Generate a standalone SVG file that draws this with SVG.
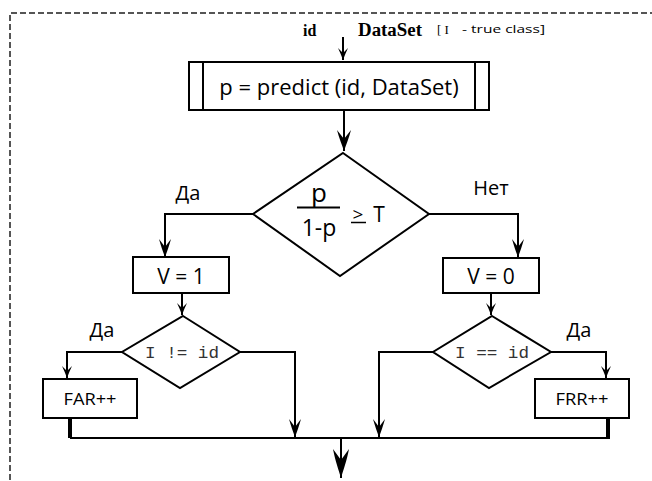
<svg xmlns="http://www.w3.org/2000/svg" width="652" height="481" viewBox="0 0 652 481">
<style>
.frame{fill:none;stroke:#555;stroke-width:2;stroke-dasharray:6 3}
.box{fill:#fff;stroke:#000;stroke-width:2}
.ln{fill:none;stroke:#000;stroke-width:2}
.thick{fill:none;stroke:#000;stroke-width:4}
.t{font-family:"Open Sans","Noto Sans",sans-serif;fill:#000}
.m{font-family:"Liberation Mono","DejaVu Sans Mono",monospace;fill:#333}
.s{font-family:"Liberation Serif",serif;font-weight:bold;fill:#000}
</style>
<defs>
<marker id="aL" markerUnits="userSpaceOnUse" viewBox="-22 -8 23 16" markerWidth="23" markerHeight="16" refX="0" refY="0" orient="auto">
<path d="M0,0 C-6,-2 -13,-5 -21,-7 L-12,0 L-21,7 C-13,5 -6,2 0,0 Z" fill="#000"/>
</marker>
<marker id="aM" markerUnits="userSpaceOnUse" viewBox="-19 -7 20 14" markerWidth="20" markerHeight="14" refX="0" refY="0" orient="auto">
<path d="M0,0 C-5,-2 -11,-4 -18,-6 L-10,0 L-18,6 C-11,4 -5,2 0,0 Z" fill="#000"/>
</marker>
<marker id="aS" markerUnits="userSpaceOnUse" viewBox="-13 -6 14 12" markerWidth="14" markerHeight="12" refX="0" refY="0" orient="auto">
<path d="M0,0 C-4,-1.5 -8,-3 -12,-5 L-7,0 L-12,5 C-8,3 -4,1.5 0,0 Z" fill="#000"/>
</marker>
<marker id="aB" markerUnits="userSpaceOnUse" viewBox="-30 -9 31 18" markerWidth="31" markerHeight="18" refX="0" refY="0" orient="auto">
<path d="M0,0 C-7,-2 -18,-6 -29,-8 L-18,0 L-29,8 C-18,6 -7,2 0,0 Z" fill="#000"/>
</marker>
</defs>

<path class="frame" d="M10,480 V13 H652"/>

<g id="inputs">
<text class="s" x="303" y="36" font-size="16">id</text>
<text class="s" x="358" y="36" font-size="18" textLength="64" lengthAdjust="spacingAndGlyphs">DataSet</text>
<text x="437" y="34" font-size="13" font-family="Liberation Serif,serif" fill="#000">[ I</text>
<text class="t" x="462" y="33" font-size="10.5" textLength="83" lengthAdjust="spacingAndGlyphs">- true class]</text>
</g>

<g id="connectors">
<path class="ln" d="M343,37 V60" marker-end="url(#aS)"/>
<path class="ln" d="M344,110 V151" marker-end="url(#aL)"/>
<path class="ln" d="M253,214 H165 V257" marker-end="url(#aM)"/>
<path class="ln" d="M429,214 H518 V257" marker-end="url(#aM)"/>
<path class="ln" d="M182,293 V315" marker-end="url(#aS)"/>
<path class="ln" d="M491,293 V315" marker-end="url(#aS)"/>
<path class="ln" d="M122,352 H67 V378" marker-end="url(#aS)"/>
<path class="ln" d="M240,352 H295 V437" marker-end="url(#aM)"/>
<path class="ln" d="M433,352 H379 V437" marker-end="url(#aM)"/>
<path class="ln" d="M551,352 H606 V378" marker-end="url(#aS)"/>
<path class="thick" d="M70,418 V438"/>
<path class="thick" d="M608,418 V438"/>
<path class="ln" d="M70,438 H610"/>
<path class="ln" d="M341,438 V478" marker-end="url(#aB)"/>
</g>

<g id="predict">
<rect class="box" x="189" y="62" width="300" height="48"/>
<path class="ln" d="M203,62 V110 M475,62 V110"/>
<text class="t" x="339" y="95" font-size="22" text-anchor="middle">p = predict (id, DataSet)</text>
</g>

<g id="decision-main">
<polygon class="box" points="343,153 429,214 340,276 253,214"/>
<text class="t" x="319" y="202" font-size="26" text-anchor="middle">p</text>
<path d="M297,207.5 H340" stroke="#000" stroke-width="2"/>
<text class="t" x="319" y="236" font-size="23" text-anchor="middle">1-p</text>
<text class="t" x="358" y="221" font-size="19" text-anchor="middle">&gt;</text>
<path d="M351,222.5 H366" stroke="#000" stroke-width="1.5"/>
<text class="t" x="379" y="222" font-size="21" text-anchor="middle">T</text>
<text class="t" x="188" y="200" font-size="20" text-anchor="middle">Да</text>
<text class="t" x="491" y="195" font-size="20" text-anchor="middle">Нет</text>
</g>

<g id="v1">
<rect class="box" x="133" y="257" width="96" height="36"/>
<text class="t" x="181" y="284" font-size="21" text-anchor="middle">V = 1</text>
</g>

<g id="v0">
<rect class="box" x="443" y="258" width="96" height="35"/>
<text class="t" x="491" y="284" font-size="21" text-anchor="middle">V = 0</text>
</g>

<g id="decision-far">
<polygon class="box" points="183,316 240,352 180,388 122,352"/>
<text class="m" x="182" y="358" font-size="17" text-anchor="middle" textLength="74" lengthAdjust="spacingAndGlyphs">I != id</text>
<text class="t" x="102" y="337" font-size="20" text-anchor="middle">Да</text>
</g>

<g id="decision-frr">
<polygon class="box" points="492,316 551,352 489,388 433,352"/>
<text class="m" x="492" y="358" font-size="17" text-anchor="middle" textLength="74" lengthAdjust="spacingAndGlyphs">I == id</text>
<text class="t" x="579" y="337" font-size="20" text-anchor="middle">Да</text>
</g>

<g id="far">
<rect class="box" x="43" y="379" width="94" height="39"/>
<text class="t" x="90" y="405" font-size="17" text-anchor="middle" textLength="53" lengthAdjust="spacingAndGlyphs">FAR++</text>
</g>

<g id="frr">
<rect class="box" x="535" y="379" width="94" height="39"/>
<text class="t" x="582" y="405" font-size="17" text-anchor="middle" textLength="53" lengthAdjust="spacingAndGlyphs">FRR++</text>
</g>
</svg>
